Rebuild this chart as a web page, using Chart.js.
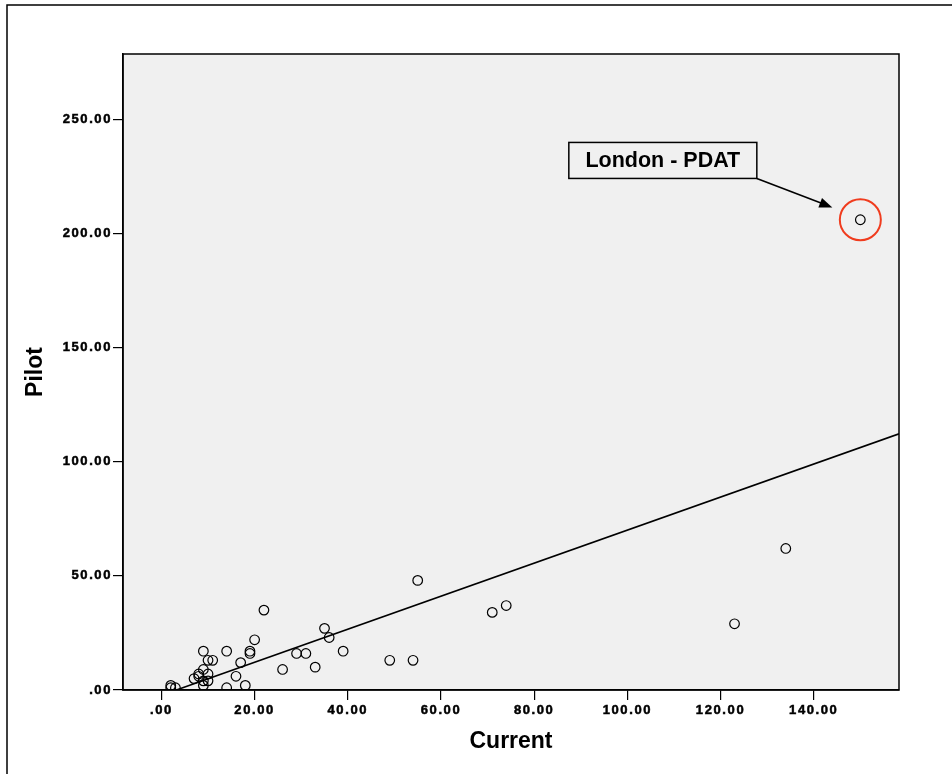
<!DOCTYPE html>
<html>
<head>
<meta charset="utf-8">
<script src="https://cdn.jsdelivr.net/npm/chart.js@4.4.1/dist/chart.umd.min.js"></script>
<style>
  body { margin: 0; background: #ffffff; }
  #wrap { width: 952px; height: 774px; position: relative; }
</style>
</head>
<body>
<div id="wrap"><canvas id="scatter"></canvas></div>
<script>
// Current vs Pilot values per site
const currentVals = [55, 49, 54, 71, 74, 123, 134, 150, 22, 35, 36, 39, 20, 9, 14, 19, 19, 29, 31,
  10, 11, 17, 26, 33, 16, 9, 7, 8, 8, 10, 9, 10, 9, 14, 18, 2, 3, 2];
const pilotVals = [48, 13, 13, 34, 37, 29, 62, 206, 35, 27, 23, 17, 22, 17, 17, 17, 16, 16, 16,
  13, 13, 12, 9, 10, 6, 9, 5, 6, 7, 7, 4, 4, 2, 1, 2, 2, 1, 1];

// fitted line end points
const fitX = [3.2, 158.3];
const fitY = [0, 112.2];

const xTickValues = [0, 20, 40, 60, 80, 100, 120, 140];
const yTickValues = [0, 50, 100, 150, 200, 250];

const highlightIndex = 7;
const highlightLabel = 'London - PDAT';

const fontFamily = "'Liberation Sans', Arial, Helvetica, sans-serif";

const points = currentVals.map((x, i) => ({ x: x, y: pilotVals[i] }));
const fitPoints = fitX.map((x, i) => ({ x: x, y: fitY[i] }));

const fmt = v => (v === 0 ? '.00' : v.toFixed(2));

// grey plot area, frames and the callout
const decorations = {
  id: 'decorations',
  beforeDraw(chart) {
    const { ctx, chartArea: a } = chart;
    ctx.save();
    ctx.fillStyle = '#f0f0f0';
    ctx.fillRect(a.left, a.top, a.right - a.left, a.bottom - a.top);
    // outer frame
    ctx.strokeStyle = '#000';
    ctx.lineWidth = 1.5;
    ctx.beginPath();
    ctx.moveTo(7, 790);
    ctx.lineTo(7, 5);
    ctx.lineTo(960, 5);
    ctx.stroke();
    ctx.restore();
  },
  afterDatasetsDraw(chart) {
    // tick labels are drawn after datasets (ticks.z = 1), spaced out like the original
    chart.ctx.letterSpacing = '1.6px';
  },
  afterDraw(chart) {
    const { ctx, chartArea: a } = chart;
    ctx.letterSpacing = '0px';
    ctx.save();
    ctx.strokeStyle = '#000';
    ctx.lineWidth = 1.5;
    ctx.strokeRect(a.left, a.top, a.right - a.left, a.bottom - a.top);

    const px = chart.scales.x.getPixelForValue(currentVals[highlightIndex]);
    const py = chart.scales.y.getPixelForValue(pilotVals[highlightIndex]);

    // red ring
    ctx.strokeStyle = '#f03c1e';
    ctx.lineWidth = 2;
    ctx.beginPath();
    ctx.arc(px, py, 20.5, 0, Math.PI * 2);
    ctx.stroke();

    // label box
    const bx = px - 291.5, by = py - 77.3, bw = 188, bh = 36;
    ctx.fillStyle = '#f0f0f0';
    ctx.fillRect(bx, by, bw, bh);
    ctx.strokeStyle = '#000';
    ctx.lineWidth = 1.5;
    ctx.strokeRect(bx, by, bw, bh);
    ctx.fillStyle = '#000';
    ctx.font = 'bold 21.5px ' + fontFamily;
    ctx.textAlign = 'center';
    ctx.textBaseline = 'middle';
    ctx.fillText(highlightLabel, bx + bw / 2, by + bh / 2 + 1);

    // arrow
    const sx = bx + bw, sy = by + bh;
    const tx = px - 28, ty = py - 12.3;
    const ang = Math.atan2(ty - sy, tx - sx);
    ctx.lineWidth = 1.6;
    ctx.beginPath();
    ctx.moveTo(sx, sy);
    ctx.lineTo(tx - 8 * Math.cos(ang), ty - 8 * Math.sin(ang));
    ctx.stroke();
    ctx.beginPath();
    ctx.moveTo(tx, ty);
    ctx.lineTo(tx - 13 * Math.cos(ang) + 5 * Math.sin(ang), ty - 13 * Math.sin(ang) - 5 * Math.cos(ang));
    ctx.lineTo(tx - 13 * Math.cos(ang) - 5 * Math.sin(ang), ty - 13 * Math.sin(ang) + 5 * Math.cos(ang));
    ctx.closePath();
    ctx.fill();
    ctx.restore();
  }
};

const tickFont = { family: fontFamily, size: 13, weight: 'bold' };
const titleFont = { family: fontFamily, size: 23, weight: 'bold' };

const ctx = document.getElementById('scatter');
new Chart(ctx, {
  type: 'scatter',
  data: {
    datasets: [
      {
        label: 'Pilot',
        data: points,
        showLine: false,
        pointStyle: 'circle',
        pointRadius: 4.8,
        pointBorderWidth: 1.2,
        pointBorderColor: '#000',
        pointBackgroundColor: 'rgba(0,0,0,0)',
        pointHoverRadius: 4.8
      },
      {
        label: 'Fit',
        type: 'line',
        data: fitPoints,
        borderColor: '#000',
        borderWidth: 1.6,
        pointRadius: 0,
        fill: false
      }
    ]
  },
  options: {
    responsive: true,
    maintainAspectRatio: false,
    animation: false,
    layout: {
      padding: { top: 54, right: 53, left: 0, bottom: 0 }
    },
    plugins: {
      legend: { display: false },
      tooltip: { enabled: false },
      title: { display: false }
    },
    scales: {
      x: {
        type: 'linear',
        min: -8.25,
        max: 158.3,
        afterFit: scale => { scale.height = 84; },
        afterBuildTicks: scale => { scale.ticks = xTickValues.map(v => ({ value: v })); },
        grid: { drawOnChartArea: false, drawTicks: true, tickLength: 10, color: '#000', lineWidth: 1.2 },
        border: { display: true, color: '#000', width: 1.5 },
        ticks: {
          z: 1,
          color: '#000',
          font: tickFont,
          textStrokeColor: '#000',
          textStrokeWidth: 0.5,
          padding: 3,
          maxRotation: 0,
          callback: v => fmt(v)
        },
        title: {
          display: true,
          text: 'Current',
          color: '#000',
          font: titleFont,
          padding: { top: 0, bottom: 19 }
        }
      },
      y: {
        type: 'linear',
        min: 0,
        max: 278.6,
        afterFit: scale => { scale.width = 123; },
        afterBuildTicks: scale => { scale.ticks = yTickValues.map(v => ({ value: v })); },
        grid: { drawOnChartArea: false, drawTicks: true, tickLength: 10, color: '#000', lineWidth: 1.2 },
        border: { display: true, color: '#000', width: 1.5 },
        ticks: {
          z: 1,
          color: '#000',
          font: tickFont,
          textStrokeColor: '#000',
          textStrokeWidth: 0.5,
          padding: 1,
          callback: v => fmt(v)
        },
        title: {
          display: true,
          text: 'Pilot',
          color: '#000',
          font: titleFont,
          padding: { top: 22, bottom: 0 }
        }
      }
    }
  },
  plugins: [decorations]
});
</script>
</body>
</html>
